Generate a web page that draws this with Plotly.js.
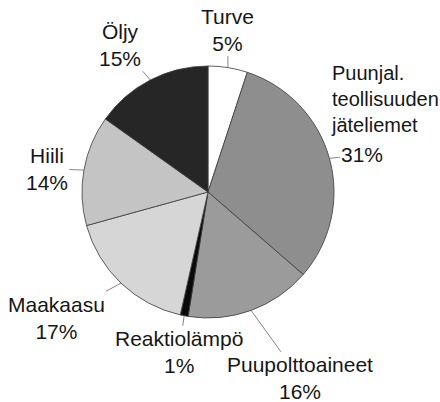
<!DOCTYPE html>
<html>
<head>
<meta charset="utf-8">
<script src="https://cdn.plot.ly/plotly-3.0.1.min.js"></script>
<style>html,body{margin:0;padding:0;background:#fff;}#chart{width:440px;height:402px;}</style>
</head>
<body>
<div id="chart"></div>
<script>
// Data
var categories = ["Turve", "Puunjal. teollisuuden jäteliemet", "Puupolttoaineet", "Reaktiolämpö", "Maakaasu", "Hiili", "Öljy"];
var labelTexts = ["Turve", "Puunjal.<br>teollisuuden<br>jäteliemet", "Puupolttoaineet", "Reaktiolämpö", "Maakaasu", "Hiili", "Öljy"];
var shares = [5, 31, 16, 1, 17, 14, 15];

// Styles
var sliceColors = ["#ffffff", "#8e8e8e", "#9b9b9b", "#0a0a0a", "#d6d6d6", "#c4c4c4", "#262626"];
// label box offsets (px) from the leader-line tip: [ax, ay]
var labelOffsets = [[0, -38], [33, -4], [49, 68], [-5, 36.5], [-65, 34.5], [-37, -1.5], [-30, -35]];
var W = 440, H = 402;
var domX = [0.18636, 0.75909], domY = [0.20896, 0.83582];

var total = shares.reduce(function (a, b) { return a + b; }, 0);
var cxPx = (domX[0] + domX[1]) / 2 * W;
var cyPx = (1 - (domY[0] + domY[1]) / 2) * H;
var rPx = Math.min((domX[1] - domX[0]) * W, (domY[1] - domY[0]) * H) / 2;

var font = {family: "Liberation Sans, Arial, sans-serif", size: 21, color: "#161616"};
var fontBlock = {family: "Liberation Sans, Arial, sans-serif", size: 20, color: "#161616"};
var annotations = [];
var cum = 0;
for (var i = 0; i < shares.length; i++) {
  var mid = (cum + shares[i] / 2) / total * 2 * Math.PI;
  cum += shares[i];
  var tx = (cxPx + rPx * Math.sin(mid)) / W;
  var ty = 1 - (cyPx - rPx * Math.cos(mid)) / H;
  var pct = shares[i] + "%";
  if (i === 1) {
    annotations.push({xref: "paper", yref: "paper", x: tx, y: ty, text: labelTexts[i],
      showarrow: false, xanchor: "left", yanchor: "middle", align: "left",
      xshift: 0, yshift: 59, font: fontBlock});
    annotations.push({xref: "paper", yref: "paper", x: tx, y: ty, text: pct,
      showarrow: true, arrowhead: 0, arrowwidth: 0.8, arrowcolor: "#666",
      ax: labelOffsets[i][0], ay: labelOffsets[i][1], font: font});
  } else {
    annotations.push({xref: "paper", yref: "paper", x: tx, y: ty, text: labelTexts[i] + "<br>" + pct,
      showarrow: true, arrowhead: 0, arrowwidth: 0.8, arrowcolor: "#666",
      ax: labelOffsets[i][0], ay: labelOffsets[i][1], align: "center", font: font});
  }
}

var trace = {
  type: "pie",
  labels: categories,
  values: shares,
  sort: false,
  direction: "clockwise",
  rotation: 0,
  textinfo: "none",
  hoverinfo: "label+percent",
  domain: {x: domX, y: domY},
  marker: {colors: sliceColors, line: {color: "#3a3a3a", width: 0.8}},
  showlegend: false
};

var layout = {
  width: W, height: H,
  margin: {l: 0, r: 0, t: 0, b: 0},
  paper_bgcolor: "#ffffff",
  showlegend: false,
  annotations: annotations
};

Plotly.newPlot("chart", [trace], layout, {displayModeBar: false, staticPlot: true});
</script>
</body>
</html>
